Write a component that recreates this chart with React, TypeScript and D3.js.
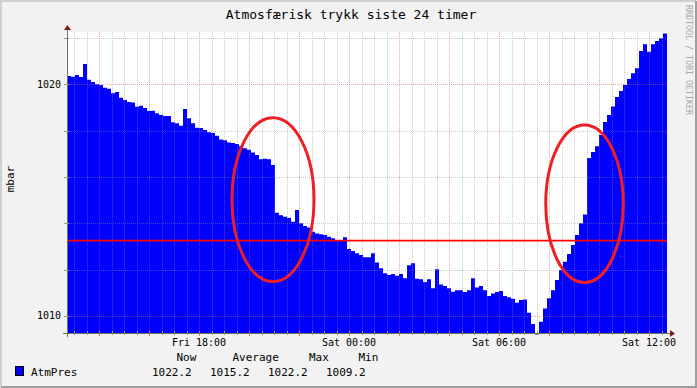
import * as React from "react";
import * as d3 from "d3";

const TITLE = "Atmosfærisk trykk siste 24 timer";
const Y_LABEL = "mbar";
const WATERMARK = "RRDTOOL / TOBI OETIKER";
const SERIES_NAME = "AtmPres";
const LEGEND_HEADERS = ["Now", "Average", "Max", "Min"];
const LEGEND_VALUES = ["1022.2", "1015.2", "1022.2", "1009.2"];

const Y_MAJOR = [1010, 1020];
const Y_MINOR = [1012, 1014, 1016, 1018, 1022];
const Y_MIN = 1009.26;
const Y_MAX = 1022.26;
const HRULE_VALUE = 1013.25;

const START = new Date(2010, 0, 15, 12, 43, 12);
const END = new Date(2010, 0, 16, 12, 43, 12);

// pressure readings, evenly spaced over the 24 hours
const PRESSURE = [
  1020.36, 1020.33, 1020.4, 1020.32, 1020.88, 1020.2, 1020.1, 1020.0, 1019.97, 1019.85,
  1019.81, 1019.61, 1019.67, 1019.42, 1019.32, 1019.24, 1019.21, 1019.03, 1019.08, 1018.98,
  1018.85, 1018.86, 1018.75, 1018.67, 1018.63, 1018.63, 1018.36, 1018.32, 1018.21, 1018.93,
  1018.54, 1018.32, 1018.13, 1018.11, 1018.03, 1017.93, 1017.9, 1017.78, 1017.62, 1017.59,
  1017.49, 1017.47, 1017.42, 1017.33, 1017.24, 1017.17, 1017.06, 1016.95, 1016.76, 1016.79,
  1016.76, 1016.52, 1014.45, 1014.35, 1014.28, 1014.24, 1014.06, 1014.57, 1014.0, 1013.88,
  1013.82, 1013.63, 1013.56, 1013.53, 1013.49, 1013.42, 1013.35, 1013.24, 1013.24, 1013.4,
  1012.89, 1012.8, 1012.7, 1012.63, 1012.53, 1012.53, 1012.7, 1012.31, 1012.06, 1011.84,
  1011.76, 1011.81, 1011.73, 1011.81, 1011.62, 1012.19, 1012.27, 1011.6, 1011.58, 1011.46,
  1011.58, 1011.19, 1012.01, 1011.36, 1011.29, 1011.19, 1011.04, 1011.11, 1011.11, 1011.03,
  1011.11, 1011.62, 1011.23, 1011.29, 1011.11, 1010.86, 1010.97, 1011.03, 1011.07, 1010.86,
  1010.8, 1010.74, 1010.57, 1010.68, 1010.71, 1010.13, 1009.65, 1009.2, 1009.75, 1010.32,
  1010.76, 1011.11, 1011.55, 1011.98, 1012.34, 1012.67, 1013.06, 1013.49, 1014.0, 1014.38,
  1016.82, 1017.08, 1017.33, 1017.81, 1018.37, 1018.67, 1019.04, 1019.45, 1019.71, 1019.97,
  1020.23, 1020.48, 1020.69, 1021.44, 1021.73, 1021.41, 1021.73, 1021.87, 1021.99, 1022.2,
];

// hand drawn circles on the picture (centre time/value, radius in hours/mbar)
const MARKS = [
  { time: new Date(2010, 0, 15, 20, 57, 36), value: 1015.02, hours: 1.64, mbar: 3.54 },
  { time: new Date(2010, 0, 16, 9, 25, 12), value: 1014.84, hours: 1.55, mbar: 3.4 },
];

const FONT = "'DejaVu Sans Mono', monospace";

export default function App() {
  const width = 697;
  const height = 388;
  const left = 67;
  const right = 667;
  const top = 32;
  const bottom = 333;

  const x = d3.scaleTime().domain([START, END]).range([left, right]);
  const y = d3.scaleLinear().domain([Y_MIN, Y_MAX]).range([bottom, top]);

  const step = (END.getTime() - START.getTime()) / PRESSURE.length;
  const points = PRESSURE.map((v, i) => ({ t: new Date(START.getTime() + i * step), v }));
  points.push({ t: END, v: PRESSURE[PRESSURE.length - 1] });

  const area = d3
    .area<{ t: Date; v: number }>()
    .x((d) => x(d.t))
    .y0(bottom)
    .y1((d) => y(d.v))
    .curve(d3.curveStepAfter);

  const majorX = d3.timeHour.every(2)!.range(START, END);
  const minorX = d3.timeMinute
    .every(30)!
    .range(START, END)
    .filter((t) => t.getMinutes() !== 0 || t.getHours() % 2 !== 0);
  const labelX = d3.timeHour.every(6)!.range(START, END);
  const fmt = d3.timeFormat("%a %H:%M");

  const px = (v: number) => Math.round(v) + 0.5;

  const gridColor = "rgba(143,143,143,0.45)";
  const mgridColor = "rgba(222,79,79,0.5)";

  return (
    <>
      <style>{"body{margin:0}"}</style>
      <svg width={width} height={height} style={{ display: "block" }}>
        <rect x={0} y={0} width={width} height={height} fill="#f2f2f2" />
        <path d={`M0,1H${width - 1}M1,0V${height - 1}`} stroke="#cfcfcf" strokeWidth={2} />
        <path d={`M${width - 1},1V${height}M1,${height - 1}H${width}`} stroke="#9e9e9e" strokeWidth={2} />

        <rect x={left} y={top} width={right - left} height={bottom - top} fill="#ffffff" />

        <path d={area(points) ?? undefined} fill="#0000ff" />

        {minorX.map((t, i) => (
          <line key={`mx${i}`} x1={px(x(t))} x2={px(x(t))} y1={top} y2={bottom}
            stroke={gridColor} strokeDasharray="1,1" />
        ))}
        {Y_MINOR.map((v) => (
          <line key={`my${v}`} x1={left} x2={right} y1={px(y(v))} y2={px(y(v))}
            stroke={gridColor} strokeDasharray="1,1" />
        ))}
        {majorX.map((t, i) => (
          <line key={`Mx${i}`} x1={px(x(t))} x2={px(x(t))} y1={top} y2={bottom}
            stroke={mgridColor} strokeDasharray="1,1" />
        ))}
        {Y_MAJOR.map((v) => (
          <line key={`My${v}`} x1={left} x2={right} y1={px(y(v))} y2={px(y(v))}
            stroke={mgridColor} strokeDasharray="1,1" />
        ))}

        <line x1={left} x2={right} y1={y(HRULE_VALUE)} y2={y(HRULE_VALUE)} stroke="#ff0000" strokeWidth={1.8} />

        {/* axis ticks */}
        {minorX.map((t, i) => (
          <line key={`tx${i}`} x1={px(x(t))} x2={px(x(t))} y1={bottom - 2} y2={bottom + 2} stroke="#9a9a9a" />
        ))}
        {majorX.map((t, i) => (
          <line key={`Tx${i}`} x1={px(x(t))} x2={px(x(t))} y1={bottom - 2} y2={bottom + 3} stroke="#e07070" />
        ))}
        {[...Y_MINOR, ...Y_MAJOR].map((v) => (
          <line key={`ty${v}`} x1={left - 3} x2={left + 2} y1={px(y(v))} y2={px(y(v))} stroke="#9a9a9a" />
        ))}

        <line x1={left - 4} x2={right + 4} y1={bottom + 0.5} y2={bottom + 0.5} stroke="#707070" />
        <line x1={left + 0.5} x2={left + 0.5} y1={bottom + 4} y2={top - 3} stroke="#707070" />
        <path d={`M${right + 3},${bottom - 3}L${right + 8},${bottom + 0.5}L${right + 3},${bottom + 4}Z`} fill="#801f1f" />
        <path d={`M${left - 3},${top - 2}L${left + 0.5},${top - 7}L${left + 4},${top - 2}Z`} fill="#801f1f" />

        <text x={351} y={18.5} fontFamily={FONT} fontSize={13} textAnchor="middle" fill="#000">
          {TITLE}
        </text>

        {Y_MAJOR.map((v) => (
          <text key={`yl${v}`} x={61} y={y(v)} dy="0.35em" fontFamily={FONT} fontSize={10} textAnchor="end">
            {v}
          </text>
        ))}
        {labelX.map((t, i) => (
          <text key={`xl${i}`} x={x(t)} y={346} fontFamily={FONT} fontSize={10} textAnchor="middle">
            {fmt(t)}
          </text>
        ))}

        <text transform="translate(14,179) rotate(-90)" fontFamily={FONT} fontSize={11} textAnchor="middle">
          {Y_LABEL}
        </text>
        <text transform="translate(685.5,5) rotate(90)" fontFamily={FONT} fontSize={8.3} fill="#a8a8a8">
          {WATERMARK}
        </text>

        {LEGEND_HEADERS.map((h, i) => (
          <text key={h} x={[176.5, 232.5, 309, 358.5][i]} y={361} fontFamily={FONT} fontSize={11}>
            {h}
          </text>
        ))}
        <rect x={15.5} y={366.5} width={8} height={9} fill="#0000ff" stroke="#000" />
        <text x={31} y={376} fontFamily={FONT} fontSize={11}>
          {SERIES_NAME}
        </text>
        {LEGEND_VALUES.map((v, i) => (
          <text key={`lv${i}`} x={[152, 210, 268, 326][i]} y={376} fontFamily={FONT} fontSize={11}>
            {v}
          </text>
        ))}

        {MARKS.map((m, i) => {
          const cx = x(m.time);
          const cy = y(m.value);
          const rx = x(new Date(m.time.getTime() + m.hours * 3600000)) - cx;
          const ry = cy - y(m.value + m.mbar);
          return <ellipse key={`e${i}`} cx={cx} cy={cy} rx={rx} ry={ry} fill="none" stroke="#ee1f24" strokeWidth={3} />;
        })}
      </svg>
    </>
  );
}
